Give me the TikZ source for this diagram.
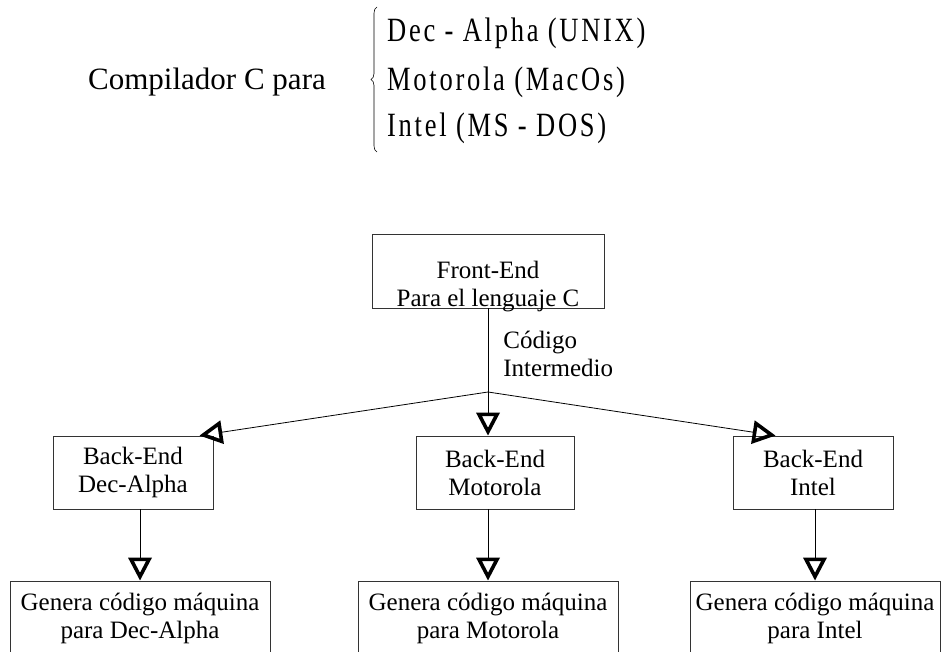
\documentclass[tikz,border=0pt]{standalone}
\usepackage{fontspec}
\setmainfont{Liberation Serif}
\newfontfamily\listfont[FakeStretch=0.78,LetterSpace=8]{Liberation Serif}
\usetikzlibrary{arrows.meta,decorations.pathreplacing}
\newcommand{\boxfont}{\fontsize{25}{28}\selectfont}
\newcommand{\bigfont}{\fontsize{31}{36}\selectfont}
\newcommand{\listsize}{\fontsize{34}{40}\selectfont\listfont}

\tikzset{
  stage/.style={draw=black!80, line width=0.8pt, align=center, inner sep=0pt, font=\boxfont},
  tri/.style={-{Triangle[open,length=23pt,width=23pt,line width=3.6pt]}, line width=0.8pt},
  plain/.style={inner sep=0pt, anchor=west}
}

\begin{document}
\begin{tikzpicture}[x=1pt,y=-1pt]
\useasboundingbox (0,0) rectangle (941,652);

\node[plain, font=\bigfont] (compiler) at (88,82) {Compilador C para};
\draw[decorate, decoration={brace, amplitude=6pt}, line width=0.6pt] (377,152) -- (377,7);
\node[plain, font=\listsize] (alpha) at (387,33)  {Dec - Alpha (UNIX)};
\node[plain, font=\listsize] (motorola) at (387,82)  {Motorola (MacOs)};
\node[plain, font=\listsize] (intel) at (387,128) {Intel (MS - DOS)};

\node[stage, minimum width=232pt, minimum height=74pt] (front) at (488,271) {\rule{0pt}{42pt}Front-End\\\raisebox{0pt}[\height][0pt]{Para el lenguaje C}};
\coordinate (split) at (488,392);

\node[stage, minimum width=160pt, minimum height=73pt] (back-alpha) at (133,472.5) {Back-End\\Dec-Alpha};
\node[stage, minimum width=158pt, minimum height=73pt] (back-motorola) at (495,472.5) {Back-End\\Motorola};
\node[stage, minimum width=160pt, minimum height=73pt] (back-intel) at (813,472.5) {Back-End\\Intel};

\node[stage, minimum width=260pt, minimum height=74pt] (gen-alpha) at (140,618) {Genera código máquina\\para Dec-Alpha};
\node[stage, minimum width=260pt, minimum height=74pt] (gen-motorola) at (488,618) {Genera código máquina\\para Motorola};
\node[stage, minimum width=250pt, minimum height=74pt] (gen-intel) at (815,618) {Genera código máquina\\para Intel};

\path[line width=0.8pt] (front) edge node[right=15pt, pos=0.55, inner sep=0pt, align=left, font=\boxfont] {Código\\Intermedio} (split);
\draw[tri] (split) -- ([xshift=-14pt]back-alpha.north east);
\draw[tri] (split) -- (back-motorola.north -| split);
\draw[tri] (split) -- ([xshift=43pt]back-intel.north west);

\draw[tri] (gen-alpha.north |- back-alpha.south) -- (gen-alpha.north);
\draw[tri] (gen-motorola.north |- back-motorola.south) -- (gen-motorola.north);
\draw[tri] (gen-intel.north |- back-intel.south) -- (gen-intel.north);
\end{tikzpicture}
\end{document}
